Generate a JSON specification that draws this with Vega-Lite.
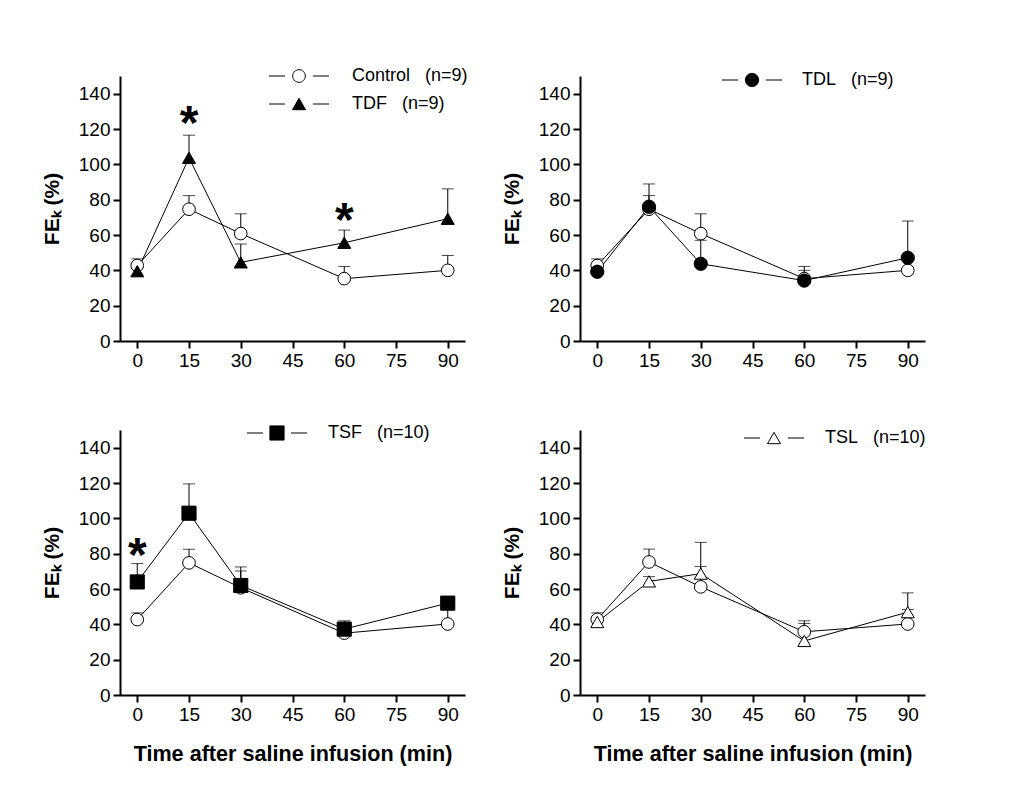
{
  "$schema": "https://vega.github.io/schema/vega-lite/v6.json",
  "background": "white",
  "padding": {"left": 41, "top": 67, "right": 10, "bottom": 10},
  "datasets": {
    "main": [
      {"panel": "TL", "group": "Control", "label": "Control\u00a0\u00a0\u00a0(n=9)", "time": 0, "mean": 42.7, "upper": 46.5},
      {"panel": "TL", "group": "Control", "label": "Control\u00a0\u00a0\u00a0(n=9)", "time": 15, "mean": 74.6, "upper": 82.3},
      {"panel": "TL", "group": "Control", "label": "Control\u00a0\u00a0\u00a0(n=9)", "time": 30, "mean": 60.8, "upper": 72.0},
      {"panel": "TL", "group": "Control", "label": "Control\u00a0\u00a0\u00a0(n=9)", "time": 60, "mean": 35.3, "upper": 42.2},
      {"panel": "TL", "group": "Control", "label": "Control\u00a0\u00a0\u00a0(n=9)", "time": 90, "mean": 40.0, "upper": 48.4},
      {"panel": "TL", "group": "TDF", "label": "TDF\u00a0\u00a0\u00a0(n=9)", "time": 0, "mean": 39.5, "upper": 42.0},
      {"panel": "TL", "group": "TDF", "label": "TDF\u00a0\u00a0\u00a0(n=9)", "time": 15, "mean": 103.7, "upper": 116.5},
      {"panel": "TL", "group": "TDF", "label": "TDF\u00a0\u00a0\u00a0(n=9)", "time": 30, "mean": 44.5, "upper": 54.9},
      {"panel": "TL", "group": "TDF", "label": "TDF\u00a0\u00a0\u00a0(n=9)", "time": 60, "mean": 55.6, "upper": 62.8},
      {"panel": "TL", "group": "TDF", "label": "TDF\u00a0\u00a0\u00a0(n=9)", "time": 90, "mean": 69.2, "upper": 86.1},

      {"panel": "TR", "group": "Control", "label": "Control\u00a0\u00a0\u00a0(n=9)", "time": 0, "mean": 42.7, "upper": 46.5},
      {"panel": "TR", "group": "Control", "label": "Control\u00a0\u00a0\u00a0(n=9)", "time": 15, "mean": 74.6, "upper": 82.3},
      {"panel": "TR", "group": "Control", "label": "Control\u00a0\u00a0\u00a0(n=9)", "time": 30, "mean": 60.8, "upper": 72.0},
      {"panel": "TR", "group": "Control", "label": "Control\u00a0\u00a0\u00a0(n=9)", "time": 60, "mean": 35.3, "upper": 42.2},
      {"panel": "TR", "group": "Control", "label": "Control\u00a0\u00a0\u00a0(n=9)", "time": 90, "mean": 40.0, "upper": 48.4},
      {"panel": "TR", "group": "TDL", "label": "TDL\u00a0\u00a0\u00a0(n=9)", "time": 0, "mean": 39.2, "upper": 42.0},
      {"panel": "TR", "group": "TDL", "label": "TDL\u00a0\u00a0\u00a0(n=9)", "time": 15, "mean": 76.0, "upper": 88.9},
      {"panel": "TR", "group": "TDL", "label": "TDL\u00a0\u00a0\u00a0(n=9)", "time": 30, "mean": 43.7, "upper": 57.0},
      {"panel": "TR", "group": "TDL", "label": "TDL\u00a0\u00a0\u00a0(n=9)", "time": 60, "mean": 34.2, "upper": 40.0},
      {"panel": "TR", "group": "TDL", "label": "TDL\u00a0\u00a0\u00a0(n=9)", "time": 90, "mean": 47.1, "upper": 67.9},

      {"panel": "BL", "group": "Control", "label": "Control\u00a0\u00a0\u00a0(n=9)", "time": 0, "mean": 42.7, "upper": 46.5},
      {"panel": "BL", "group": "Control", "label": "Control\u00a0\u00a0\u00a0(n=9)", "time": 15, "mean": 74.8, "upper": 82.5},
      {"panel": "BL", "group": "Control", "label": "Control\u00a0\u00a0\u00a0(n=9)", "time": 30, "mean": 60.7, "upper": 72.5},
      {"panel": "BL", "group": "Control", "label": "Control\u00a0\u00a0\u00a0(n=9)", "time": 60, "mean": 35.0, "upper": 42.0},
      {"panel": "BL", "group": "Control", "label": "Control\u00a0\u00a0\u00a0(n=9)", "time": 90, "mean": 40.2, "upper": 48.4},
      {"panel": "BL", "group": "TSF", "label": "TSF\u00a0\u00a0\u00a0(n=10)", "time": 0, "mean": 64.0, "upper": 74.4},
      {"panel": "BL", "group": "TSF", "label": "TSF\u00a0\u00a0\u00a0(n=10)", "time": 15, "mean": 102.9, "upper": 119.5},
      {"panel": "BL", "group": "TSF", "label": "TSF\u00a0\u00a0\u00a0(n=10)", "time": 30, "mean": 62.0, "upper": 70.2},
      {"panel": "BL", "group": "TSF", "label": "TSF\u00a0\u00a0\u00a0(n=10)", "time": 60, "mean": 37.3, "upper": 41.0},
      {"panel": "BL", "group": "TSF", "label": "TSF\u00a0\u00a0\u00a0(n=10)", "time": 90, "mean": 52.0, "upper": 55.0},

      {"panel": "BR", "group": "Control", "label": "Control\u00a0\u00a0\u00a0(n=9)", "time": 0, "mean": 42.8, "upper": 46.5},
      {"panel": "BR", "group": "Control", "label": "Control\u00a0\u00a0\u00a0(n=9)", "time": 15, "mean": 75.3, "upper": 82.6},
      {"panel": "BR", "group": "Control", "label": "Control\u00a0\u00a0\u00a0(n=9)", "time": 30, "mean": 61.2, "upper": 72.7},
      {"panel": "BR", "group": "Control", "label": "Control\u00a0\u00a0\u00a0(n=9)", "time": 60, "mean": 35.8, "upper": 42.0},
      {"panel": "BR", "group": "Control", "label": "Control\u00a0\u00a0\u00a0(n=9)", "time": 90, "mean": 40.2, "upper": 48.4},
      {"panel": "BR", "group": "TSL", "label": "TSL\u00a0\u00a0\u00a0(n=10)", "time": 0, "mean": 41.3, "upper": 44.0},
      {"panel": "BR", "group": "TSL", "label": "TSL\u00a0\u00a0\u00a0(n=10)", "time": 15, "mean": 64.3, "upper": 67.0},
      {"panel": "BR", "group": "TSL", "label": "TSL\u00a0\u00a0\u00a0(n=10)", "time": 30, "mean": 68.7, "upper": 86.4},
      {"panel": "BR", "group": "TSL", "label": "TSL\u00a0\u00a0\u00a0(n=10)", "time": 60, "mean": 30.6, "upper": 40.5},
      {"panel": "BR", "group": "TSL", "label": "TSL\u00a0\u00a0\u00a0(n=10)", "time": 90, "mean": 46.9, "upper": 57.8}
    ],
    "stars": [
      {"panel": "TL", "time": 15, "mean": 128.2},
      {"panel": "TL", "time": 60, "mean": 72.8},
      {"panel": "BL", "time": 0, "mean": 83.6}
    ]
  },
  "concat": [
    {
      "width": 345, "height": 265,
      "encoding": {
        "x": {"field": "time", "type": "quantitative", "scale": {"domain": [-5, 95], "nice": false, "zero": false}, "axis": {"values": [0, 15, 30, 45, 60, 75, 90], "title": null, "labelFlush": false}},
        "y": {"field": "mean", "type": "quantitative", "scale": {"domain": [0, 150], "nice": false}, "axis": {"values": [0, 20, 40, 60, 80, 100, 120, 140], "title": "FEₖ (%)", "titlePadding": 16}}
      },
      "layer": [
        {"data": {"name": "main"}, "transform": [{"filter": "datum.panel === 'TL'"}], "mark": {"type": "line", "color": "black", "strokeWidth": 1}, "encoding": {"detail": {"field": "group"}}},
        {"data": {"name": "main"}, "transform": [{"filter": "datum.panel === 'TL'"}], "mark": {"type": "rule", "color": "black", "strokeWidth": 1}, "encoding": {"y2": {"field": "upper"}}},
        {"data": {"name": "main"}, "transform": [{"filter": "datum.panel === 'TL'"}], "mark": {"type": "tick", "orient": "horizontal", "color": "black", "thickness": 1, "size": 12}, "encoding": {"y": {"field": "upper", "type": "quantitative", "title": "FEₖ (%)", "scale": {"domain": [0, 150], "nice": false}}}},
        {"data": {"name": "main"}, "transform": [{"filter": "datum.panel === 'TL' && datum.group === 'Control'"}], "mark": {"type": "point", "shape": "circle", "filled": true, "fill": "white", "stroke": "black", "strokeWidth": 1, "size": 160, "opacity": 1}},
        {"data": {"name": "main"}, "transform": [{"filter": "datum.panel === 'TL' && datum.group === 'TDF'"}], "mark": {"type": "point", "shape": "triangle-up", "filled": true, "fill": "black", "stroke": "black", "strokeWidth": 1, "size": 169, "opacity": 1}},
        {"data": {"name": "stars"}, "transform": [{"filter": "datum.panel === 'TL'"}], "mark": {"type": "text", "text": "*", "font": "Liberation Sans", "fontWeight": "bold", "fontSize": 48, "baseline": "alphabetic", "dy": 24, "color": "black"}},
        {"data": {"name": "main"}, "transform": [{"filter": "datum.panel === 'TL' && datum.time === 0"}], "mark": {"type": "point", "filled": true, "strokeWidth": 1, "opacity": 0},
         "encoding": {
           "shape": {"field": "label", "type": "nominal", "scale": {"domain": ["Control\u00a0\u00a0\u00a0(n=9)", "TDF\u00a0\u00a0\u00a0(n=9)"], "range": ["M-4.75,0H-2.2M2.2,0H4.75M1,0A1,1,0,1,1,-1,0A1,1,0,1,1,1,0Z", "M-4.75,0H-2.2M2.2,0H4.75M0,-0.9L1.03,0.9L-1.03,0.9Z"]},
             "legend": {"orient": "none", "legendX": 170, "legendY": -9, "title": null, "symbolSize": 160, "symbolStrokeWidth": 1, "symbolOpacity": 1, "labelFontSize": 18, "labelFont": "Liberation Sans", "labelColor": "black", "labelOffset": 44, "rowPadding": 10, "padding": 0}},
           "fill": {"field": "label", "type": "nominal", "scale": {"domain": ["Control\u00a0\u00a0\u00a0(n=9)", "TDF\u00a0\u00a0\u00a0(n=9)"], "range": ["white", "black"]},
             "legend": {"orient": "none", "legendX": 170, "legendY": -9, "title": null, "symbolSize": 160, "symbolStrokeWidth": 1, "symbolOpacity": 1, "labelFontSize": 18, "labelFont": "Liberation Sans", "labelColor": "black", "labelOffset": 44, "rowPadding": 10, "padding": 0}},
           "stroke": {"field": "label", "type": "nominal", "scale": {"domain": ["Control\u00a0\u00a0\u00a0(n=9)", "TDF\u00a0\u00a0\u00a0(n=9)"], "range": ["black", "black"]},
             "legend": {"orient": "none", "legendX": 170, "legendY": -9, "title": null, "symbolSize": 160, "symbolStrokeWidth": 1, "symbolOpacity": 1, "labelFontSize": 18, "labelFont": "Liberation Sans", "labelColor": "black", "labelOffset": 44, "rowPadding": 10, "padding": 0}}
         }}
      ]
    },
    {
      "width": 345, "height": 265,
      "encoding": {
        "x": {"field": "time", "type": "quantitative", "scale": {"domain": [-5, 95], "nice": false, "zero": false}, "axis": {"values": [0, 15, 30, 45, 60, 75, 90], "title": null, "labelFlush": false}},
        "y": {"field": "mean", "type": "quantitative", "scale": {"domain": [0, 150], "nice": false}, "axis": {"values": [0, 20, 40, 60, 80, 100, 120, 140], "title": "FEₖ (%)", "titlePadding": 16}}
      },
      "layer": [
        {"data": {"name": "main"}, "transform": [{"filter": "datum.panel === 'TR'"}], "mark": {"type": "line", "color": "black", "strokeWidth": 1}, "encoding": {"detail": {"field": "group"}}},
        {"data": {"name": "main"}, "transform": [{"filter": "datum.panel === 'TR'"}], "mark": {"type": "rule", "color": "black", "strokeWidth": 1}, "encoding": {"y2": {"field": "upper"}}},
        {"data": {"name": "main"}, "transform": [{"filter": "datum.panel === 'TR'"}], "mark": {"type": "tick", "orient": "horizontal", "color": "black", "thickness": 1, "size": 12}, "encoding": {"y": {"field": "upper", "type": "quantitative", "title": "FEₖ (%)", "scale": {"domain": [0, 150], "nice": false}}}},
        {"data": {"name": "main"}, "transform": [{"filter": "datum.panel === 'TR' && datum.group === 'Control'"}], "mark": {"type": "point", "shape": "circle", "filled": true, "fill": "white", "stroke": "black", "strokeWidth": 1, "size": 160, "opacity": 1}},
        {"data": {"name": "main"}, "transform": [{"filter": "datum.panel === 'TR' && datum.group === 'TDL'"}], "mark": {"type": "point", "shape": "circle", "filled": true, "fill": "black", "stroke": "black", "strokeWidth": 1, "size": 177, "opacity": 1}},
        {"data": {"name": "main"}, "transform": [{"filter": "datum.panel === 'TR' && datum.time === 0 && datum.group === 'TDL'"}], "mark": {"type": "point", "filled": true, "strokeWidth": 1, "opacity": 0},
         "encoding": {
           "shape": {"field": "label", "type": "nominal", "scale": {"domain": ["TDL\u00a0\u00a0\u00a0(n=9)"], "range": ["M-4.75,0H-2.2M2.2,0H4.75M1.05,0A1.05,1.05,0,1,1,-1.05,0A1.05,1.05,0,1,1,1.05,0Z"]},
             "legend": {"orient": "none", "legendX": 163, "legendY": -5, "title": null, "symbolSize": 160, "symbolStrokeWidth": 1, "symbolOpacity": 1, "labelFontSize": 18, "labelFont": "Liberation Sans", "labelColor": "black", "labelOffset": 41, "rowPadding": 10, "padding": 0}},
           "fill": {"field": "label", "type": "nominal", "scale": {"domain": ["TDL\u00a0\u00a0\u00a0(n=9)"], "range": ["black"]},
             "legend": {"orient": "none", "legendX": 163, "legendY": -5, "title": null, "symbolSize": 160, "symbolStrokeWidth": 1, "symbolOpacity": 1, "labelFontSize": 18, "labelFont": "Liberation Sans", "labelColor": "black", "labelOffset": 41, "rowPadding": 10, "padding": 0}},
           "stroke": {"field": "label", "type": "nominal", "scale": {"domain": ["TDL\u00a0\u00a0\u00a0(n=9)"], "range": ["black"]},
             "legend": {"orient": "none", "legendX": 163, "legendY": -5, "title": null, "symbolSize": 160, "symbolStrokeWidth": 1, "symbolOpacity": 1, "labelFontSize": 18, "labelFont": "Liberation Sans", "labelColor": "black", "labelOffset": 41, "rowPadding": 10, "padding": 0}}
         }}
      ]
    },
    {
      "width": 345, "height": 265,
      "encoding": {
        "x": {"field": "time", "type": "quantitative", "scale": {"domain": [-5, 95], "nice": false, "zero": false}, "axis": {"values": [0, 15, 30, 45, 60, 75, 90], "title": "Time after saline infusion (min)", "titlePadding": 19, "titleFontSize": 21.6, "labelFlush": false}},
        "y": {"field": "mean", "type": "quantitative", "scale": {"domain": [0, 150], "nice": false}, "axis": {"values": [0, 20, 40, 60, 80, 100, 120, 140], "title": "FEₖ (%)", "titlePadding": 16}}
      },
      "layer": [
        {"data": {"name": "main"}, "transform": [{"filter": "datum.panel === 'BL'"}], "mark": {"type": "line", "color": "black", "strokeWidth": 1}, "encoding": {"detail": {"field": "group"}}},
        {"data": {"name": "main"}, "transform": [{"filter": "datum.panel === 'BL'"}], "mark": {"type": "rule", "color": "black", "strokeWidth": 1}, "encoding": {"y2": {"field": "upper"}}},
        {"data": {"name": "main"}, "transform": [{"filter": "datum.panel === 'BL'"}], "mark": {"type": "tick", "orient": "horizontal", "color": "black", "thickness": 1, "size": 12}, "encoding": {"y": {"field": "upper", "type": "quantitative", "title": "FEₖ (%)", "scale": {"domain": [0, 150], "nice": false}}}},
        {"data": {"name": "main"}, "transform": [{"filter": "datum.panel === 'BL' && datum.group === 'Control'"}], "mark": {"type": "point", "shape": "circle", "filled": true, "fill": "white", "stroke": "black", "strokeWidth": 1, "size": 160, "opacity": 1}},
        {"data": {"name": "main"}, "transform": [{"filter": "datum.panel === 'BL' && datum.group === 'TSF'"}], "mark": {"type": "point", "shape": "square", "filled": true, "fill": "black", "stroke": "black", "strokeWidth": 1, "size": 200, "opacity": 1}},
        {"data": {"name": "stars"}, "transform": [{"filter": "datum.panel === 'BL'"}], "mark": {"type": "text", "text": "*", "font": "Liberation Sans", "fontWeight": "bold", "fontSize": 48, "baseline": "alphabetic", "dy": 24, "color": "black"}},
        {"data": {"name": "main"}, "transform": [{"filter": "datum.panel === 'BL' && datum.time === 0 && datum.group === 'TSF'"}], "mark": {"type": "point", "filled": true, "strokeWidth": 1, "opacity": 0},
         "encoding": {
           "shape": {"field": "label", "type": "nominal", "scale": {"domain": ["TSF\u00a0\u00a0\u00a0(n=10)"], "range": ["M-4.75,0H-2.2M2.2,0H4.75M-1.12,-1.12H1.12V1.12H-1.12Z"]},
             "legend": {"orient": "none", "legendX": 148, "legendY": -6, "title": null, "symbolSize": 160, "symbolStrokeWidth": 1, "symbolOpacity": 1, "labelFontSize": 18, "labelFont": "Liberation Sans", "labelColor": "black", "labelOffset": 42, "rowPadding": 10, "padding": 0}},
           "fill": {"field": "label", "type": "nominal", "scale": {"domain": ["TSF\u00a0\u00a0\u00a0(n=10)"], "range": ["black"]},
             "legend": {"orient": "none", "legendX": 148, "legendY": -6, "title": null, "symbolSize": 160, "symbolStrokeWidth": 1, "symbolOpacity": 1, "labelFontSize": 18, "labelFont": "Liberation Sans", "labelColor": "black", "labelOffset": 42, "rowPadding": 10, "padding": 0}},
           "stroke": {"field": "label", "type": "nominal", "scale": {"domain": ["TSF\u00a0\u00a0\u00a0(n=10)"], "range": ["black"]},
             "legend": {"orient": "none", "legendX": 148, "legendY": -6, "title": null, "symbolSize": 160, "symbolStrokeWidth": 1, "symbolOpacity": 1, "labelFontSize": 18, "labelFont": "Liberation Sans", "labelColor": "black", "labelOffset": 42, "rowPadding": 10, "padding": 0}}
         }}
      ]
    },
    {
      "width": 345, "height": 265,
      "encoding": {
        "x": {"field": "time", "type": "quantitative", "scale": {"domain": [-5, 95], "nice": false, "zero": false}, "axis": {"values": [0, 15, 30, 45, 60, 75, 90], "title": "Time after saline infusion (min)", "titlePadding": 19, "titleFontSize": 21.6, "labelFlush": false}},
        "y": {"field": "mean", "type": "quantitative", "scale": {"domain": [0, 150], "nice": false}, "axis": {"values": [0, 20, 40, 60, 80, 100, 120, 140], "title": "FEₖ (%)", "titlePadding": 16}}
      },
      "layer": [
        {"data": {"name": "main"}, "transform": [{"filter": "datum.panel === 'BR'"}], "mark": {"type": "line", "color": "black", "strokeWidth": 1}, "encoding": {"detail": {"field": "group"}}},
        {"data": {"name": "main"}, "transform": [{"filter": "datum.panel === 'BR'"}], "mark": {"type": "rule", "color": "black", "strokeWidth": 1}, "encoding": {"y2": {"field": "upper"}}},
        {"data": {"name": "main"}, "transform": [{"filter": "datum.panel === 'BR'"}], "mark": {"type": "tick", "orient": "horizontal", "color": "black", "thickness": 1, "size": 12}, "encoding": {"y": {"field": "upper", "type": "quantitative", "title": "FEₖ (%)", "scale": {"domain": [0, 150], "nice": false}}}},
        {"data": {"name": "main"}, "transform": [{"filter": "datum.panel === 'BR' && datum.group === 'Control'"}], "mark": {"type": "point", "shape": "circle", "filled": true, "fill": "white", "stroke": "black", "strokeWidth": 1, "size": 160, "opacity": 1}},
        {"data": {"name": "main"}, "transform": [{"filter": "datum.panel === 'BR' && datum.group === 'TSL'"}], "mark": {"type": "point", "shape": "triangle-up", "filled": true, "fill": "white", "stroke": "black", "strokeWidth": 1, "size": 169, "opacity": 1}},
        {"data": {"name": "main"}, "transform": [{"filter": "datum.panel === 'BR' && datum.time === 0 && datum.group === 'TSL'"}], "mark": {"type": "point", "filled": true, "strokeWidth": 1, "opacity": 0},
         "encoding": {
           "shape": {"field": "label", "type": "nominal", "scale": {"domain": ["TSL\u00a0\u00a0\u00a0(n=10)"], "range": ["M-4.75,0H-2.2M2.2,0H4.75M0,-0.9L1.03,0.9L-1.03,0.9Z"]},
             "legend": {"orient": "none", "legendX": 185, "legendY": -1, "title": null, "symbolSize": 160, "symbolStrokeWidth": 1, "symbolOpacity": 1, "labelFontSize": 18, "labelFont": "Liberation Sans", "labelColor": "black", "labelOffset": 42, "rowPadding": 10, "padding": 0}},
           "fill": {"field": "label", "type": "nominal", "scale": {"domain": ["TSL\u00a0\u00a0\u00a0(n=10)"], "range": ["white"]},
             "legend": {"orient": "none", "legendX": 185, "legendY": -1, "title": null, "symbolSize": 160, "symbolStrokeWidth": 1, "symbolOpacity": 1, "labelFontSize": 18, "labelFont": "Liberation Sans", "labelColor": "black", "labelOffset": 42, "rowPadding": 10, "padding": 0}},
           "stroke": {"field": "label", "type": "nominal", "scale": {"domain": ["TSL\u00a0\u00a0\u00a0(n=10)"], "range": ["black"]},
             "legend": {"orient": "none", "legendX": 185, "legendY": -1, "title": null, "symbolSize": 160, "symbolStrokeWidth": 1, "symbolOpacity": 1, "labelFontSize": 18, "labelFont": "Liberation Sans", "labelColor": "black", "labelOffset": 42, "rowPadding": 10, "padding": 0}}
         }}
      ]
    }
  ],
  "columns": 2,
  "spacing": {"row": 89, "column": 115},
  "bounds": "flush",
  "resolve": {"scale": {"shape": "independent", "fill": "independent", "stroke": "independent"}},
  "config": {
    "font": "Liberation Sans",
    "view": {"stroke": null},
    "axis": {"grid": false, "domainColor": "black", "domainWidth": 2, "tickColor": "black", "tickWidth": 2, "tickSize": 7, "labelFontSize": 19, "labelColor": "black", "labelFont": "Liberation Sans", "labelPadding": 3, "titleFont": "Liberation Sans", "titleFontSize": 21, "titleFontWeight": "bold", "titleColor": "black"}
  }
}
